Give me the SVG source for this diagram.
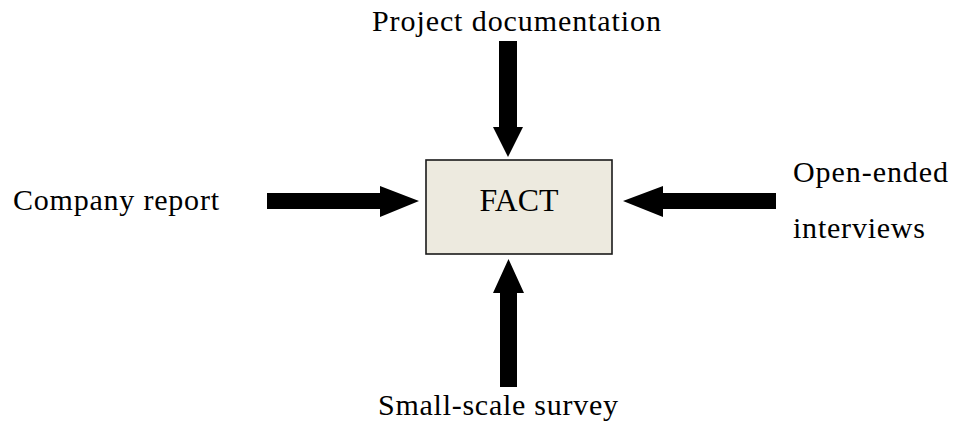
<svg xmlns="http://www.w3.org/2000/svg" width="956" height="421" viewBox="0 0 956 421">
  <style>
    .lbl { font-family: "Liberation Serif", "Times New Roman", serif; font-size: 30px; fill: #000; }
    .core { fill: #edeadf; stroke: #1a1a1a; stroke-width: 1.6; }
    .arrow { fill: #000; }
  </style>
  <rect width="956" height="421" fill="#fff"/>

  <g id="connectors">
    <!-- Project documentation -> FACT -->
    <polygon class="arrow" points="499,41 517,41 517,127 523,127 508,157 493,127 499,127"/>
    <!-- Company report -> FACT -->
    <polygon class="arrow" points="267,193 380,193 380,186 419,201 380,217 380,209 267,209"/>
    <!-- Open-ended interviews -> FACT -->
    <polygon class="arrow" points="776,193 663,193 663,186 623,201 663,217 663,209 776,209"/>
    <!-- Small-scale survey -> FACT -->
    <polygon class="arrow" points="500,387 517,387 517,293 524,293 508.5,259 493,293 500,293"/>
  </g>

  <g id="fact">
    <rect class="core" x="426" y="160" width="186" height="94"/>
    <text class="lbl" x="519" y="211" text-anchor="middle" textLength="79" lengthAdjust="spacingAndGlyphs" style="font-size:32px">FACT</text>
  </g>

  <g id="project-documentation">
    <text class="lbl" x="372" y="31" textLength="289" lengthAdjust="spacing">Project documentation</text>
  </g>

  <g id="company-report">
    <text class="lbl" x="13" y="210" textLength="206" lengthAdjust="spacing">Company report</text>
  </g>

  <g id="open-ended-interviews">
    <text class="lbl" x="793" y="182" textLength="155" lengthAdjust="spacing">Open-ended</text>
    <text class="lbl" x="793" y="238" textLength="132" lengthAdjust="spacing">interviews</text>
  </g>

  <g id="small-scale-survey">
    <text class="lbl" x="378" y="415" textLength="240" lengthAdjust="spacing">Small-scale survey</text>
  </g>
</svg>
